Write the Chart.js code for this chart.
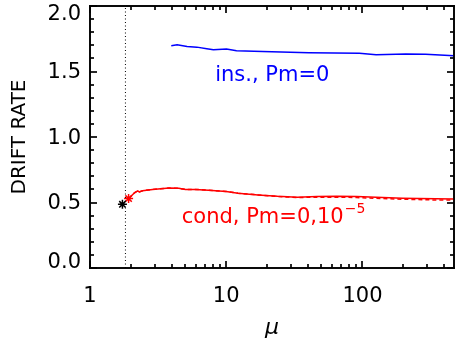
<!DOCTYPE html>
<html>
<head>
<meta charset="utf-8">
<script src="https://cdn.jsdelivr.net/npm/chart.js@4/dist/chart.umd.min.js"></script>
<style>
  html, body { margin: 0; padding: 0; background: #fff; }
  #wrap { width: 460px; height: 339px; }
</style>
</head>
<body>
<div id="wrap"><canvas id="drift"></canvas></div>
<script>
// insulating case, Pm = 0
const insMu = [3.95, 4.36, 5.16, 6.09, 7.2, 8.05, 10.05, 11.9, 18.5, 40.4, 95, 126, 208, 291, 470];
const insRate = [1.697, 1.704, 1.691, 1.686, 1.674, 1.666, 1.671, 1.658, 1.653, 1.643, 1.640, 1.628, 1.633, 1.631, 1.620];

// conducting case, Pm = 0 (solid) and Pm = 1e-5 (dashed)
const condMu = [1.92, 2.12, 2.24, 2.30, 2.43, 2.88, 3.80, 4.49, 5.02, 5.93, 7.4, 10, 12.2, 17.1, 23.8, 33.2, 46.4, 64.8, 90.5, 126, 197, 344, 470];
const condRate0 = [0.528, 0.574, 0.589, 0.581, 0.589, 0.600, 0.610, 0.608, 0.600, 0.600, 0.594, 0.584, 0.571, 0.558, 0.547, 0.540, 0.545, 0.547, 0.545, 0.540, 0.533, 0.528, 0.527];
const condRate5 = [0.528, 0.574, 0.589, 0.581, 0.589, 0.600, 0.610, 0.608, 0.600, 0.600, 0.594, 0.584, 0.571, 0.558, 0.546, 0.538, 0.541, 0.541, 0.538, 0.532, 0.525, 0.519, 0.518];

// onset markers and critical mu
const onsetIns = { x: 1.73, y: 0.486 };
const onsetCond = { x: 1.92, y: 0.530 };
const muCrit = 1.82;

const yTicks = [0, 0.5, 1.0, 1.5, 2.0];
const xTicks = [1, 10, 100];

const pairs = (xs, ys) => xs.map((x, i) => ({ x: x, y: ys[i] }));

const font = 'DejaVu Sans, Liberation Sans, sans-serif';

// box with inward IDL-style ticks, drawn with fills
const drawBox = (chart) => {
  const { ctx, scales: { x, y } } = chart;
  const L = x.left, R = x.right, T = y.top, B = y.bottom;
  ctx.save();
  ctx.fillStyle = '#000000';
  const t = 1.6;
  ctx.fillRect(L - t / 2, T - t / 2, R - L + t, t);
  ctx.fillRect(L - t / 2, B - t / 2, R - L + t, t);
  ctx.fillRect(L - t / 2, T - t / 2, t, B - T + t);
  ctx.fillRect(R - t / 2, T - t / 2, t, B - T + t);
  for (let i = 0; i <= 20; i++) {
    const py = Math.round(y.getPixelForValue(i / 10));
    const len = i % 5 === 0 ? 7 : 4;
    ctx.fillRect(L, py - 0.6, len, 1.2);
    ctx.fillRect(R - len, py - 0.6, len, 1.2);
  }
  for (let d = 1; d <= 100; d *= 10) {
    for (let k = 1; k <= 9; k++) {
      const v = d * k;
      if (v > x.max) break;
      const px = Math.round(x.getPixelForValue(v));
      const len = k === 1 ? 7 : 4;
      ctx.fillRect(px - 0.6, B - len, 1.2, len);
      ctx.fillRect(px - 0.6, T, 1.2, len);
    }
  }
  ctx.restore();
};

const boxPlugin = {
  id: 'box',
  beforeDatasetsDraw(chart) {
    drawBox(chart);
    const { ctx, scales: { x, y } } = chart;
    // end labels of the y axis sit inside the axis range, as in the original
    ctx.save();
    ctx.fillStyle = '#000000';
    ctx.font = '21px ' + font;
    ctx.textAlign = 'right';
    ctx.textBaseline = 'middle';
    ctx.fillText('2.0', x.left - 9, y.getPixelForValue(2) + 8.5);
    ctx.fillText('0.0', x.left - 9, y.getPixelForValue(0) - 5.5);
    ctx.restore();
  },
  afterDatasetsDraw(chart) {
    drawBox(chart);
    const { ctx, scales: { x, y } } = chart;
    ctx.save();
    ctx.textBaseline = 'alphabetic';
    ctx.textAlign = 'left';
    ctx.font = '21px ' + font;
    ctx.fillStyle = '#0000ff';
    ctx.fillText('ins., Pm=0', x.getPixelForValue(8.3), y.getPixelForValue(1.425));
    ctx.fillStyle = '#ff0000';
    const cx = x.getPixelForValue(4.72), cy = y.getPixelForValue(0.345);
    const main = 'cond, Pm=0,10';
    ctx.fillText(main, cx, cy);
    const w = ctx.measureText(main).width;
    ctx.font = '14px ' + font;
    ctx.fillText('\u22125', cx + w + 1, cy - 10);
    ctx.restore();
  }
};

new Chart(document.getElementById('drift'), {
  type: 'line',
  data: {
    datasets: [
      { data: pairs(insMu, insRate), borderColor: '#0000ff', borderWidth: 1.5, pointRadius: 0, tension: 0 },
      { data: pairs(condMu, condRate0), borderColor: '#ff0000', borderWidth: 1.5, pointRadius: 0, tension: 0 },
      { data: pairs(condMu, condRate5), borderColor: '#ff0000', borderWidth: 1.5, borderDash: [4, 3], pointRadius: 0, tension: 0 },
      { data: [{ x: muCrit, y: 0 }, { x: muCrit, y: 2 }], borderColor: '#000', borderWidth: 1, borderDash: [1, 2.5], pointRadius: 0 },
      { data: [onsetIns], showLine: false, pointStyle: 'star', pointRadius: 4.5, borderColor: '#000', borderWidth: 1.5 },
      { data: [onsetCond], showLine: false, pointStyle: 'star', pointRadius: 4.5, borderColor: '#ff0000', borderWidth: 1.5 }
    ]
  },
  options: {
    responsive: true,
    maintainAspectRatio: false,
    animation: false,
    layout: { padding: { top: 4, right: 1, left: 0, bottom: 0 } },
    plugins: { legend: { display: false }, tooltip: { enabled: false } },
    scales: {
      x: {
        type: 'logarithmic',
        min: 1,
        max: 470,
        afterFit: s => { s.height = 71; s.paddingLeft = 0; s.paddingRight = 0; },
        afterBuildTicks: s => { s.ticks = xTicks.map(v => ({ value: v })); },
        grid: { display: false, drawTicks: false },
        border: { display: false },
        ticks: {
          autoSkip: false, maxRotation: 0, padding: 16, color: '#000',
          font: { family: font, size: 21 },
          callback: v => String(v)
        },
        title: {
          display: true, text: '\u03bc', color: '#000',
          font: { family: font, size: 22, style: 'italic', lineHeight: 1 },
          padding: 0
        }
      },
      y: {
        type: 'linear',
        min: 0,
        max: 2,
        afterFit: s => { s.width = 90; s.paddingTop = 0; s.paddingBottom = 0; },
        afterBuildTicks: s => { s.ticks = yTicks.map(v => ({ value: v })); },
        grid: { display: false, drawTicks: false },
        border: { display: false },
        ticks: {
          padding: 9, color: '#000', labelOffset: 1.5,
          font: { family: font, size: 21 },
          callback: v => (v === 0 || v === 2) ? '' : v.toFixed(1)
        },
        title: {
          display: true, text: 'DRIFT RATE', color: '#000',
          font: { family: font, size: 20 },
          padding: { top: 8, bottom: 0 }
        }
      }
    }
  },
  plugins: [boxPlugin]
});
</script>
</body>
</html>
